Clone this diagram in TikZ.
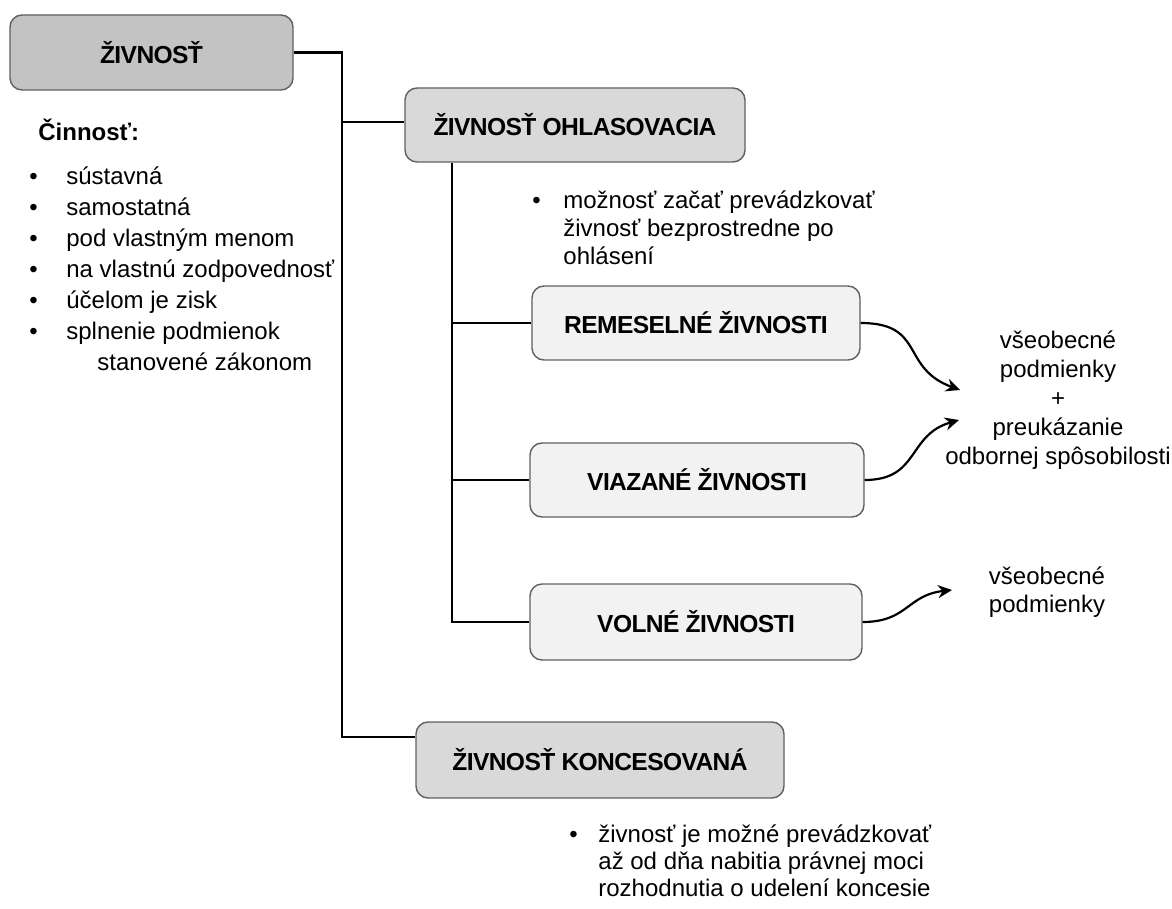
\documentclass[tikz,border=0pt]{standalone}
\usepackage{fontspec}
\setmainfont{Liberation Sans}
\usetikzlibrary{positioning,arrows.meta}

\definecolor{darkbox}{HTML}{C3C3C3}
\definecolor{midbox}{HTML}{D9D9D9}
\definecolor{lightbox}{HTML}{F2F2F2}
\definecolor{boxline}{HTML}{606060}

\tikzset{
  box/.style={draw=boxline, rounded corners=6pt, line width=0.7pt, inner sep=0pt,
    font=\bfseries\fontsize{12.3}{14}\selectfont\addfontfeature{LetterSpace=-2.5}},
  mainbox/.style={box, fill=darkbox},
  groupbox/.style={box, fill=midbox},
  typebox/.style={box, fill=lightbox},
  link/.style={line width=1.1pt},
  curvy/.style={line width=1.1pt, -{Stealth[length=7pt,width=6.5pt]}},
  plain/.style={inner sep=0pt, font=\fontsize{12}{15.5}\selectfont},
}

\begin{document}
\begin{tikzpicture}[x=0.5pt,y=-0.5pt]
\useasboundingbox (0,0) rectangle (1172,909);

%boxes
\node[mainbox, minimum width=141.5pt, minimum height=37.5pt] (ziv) at (151.5,52.5) {ŽIVNOSŤ};
\node[groupbox, minimum width=170pt, minimum height=37pt] (ohl) at (575,125) {ŽIVNOSŤ OHLASOVACIA};
\node[typebox, minimum width=164pt, minimum height=37pt] (rem) at (696,323) {REMESELNÉ ŽIVNOSTI};
\node[typebox, minimum width=167pt, minimum height=37pt] (via) at (697,480) {VIAZANÉ ŽIVNOSTI};
\node[typebox, minimum width=166pt, minimum height=38pt] (vol) at (696,622) {VOLNÉ ŽIVNOSTI};
\node[groupbox, minimum width=184pt, minimum height=38pt] (kon) at (600,760) {ŽIVNOSŤ KONCESOVANÁ};

%main trunk
\coordinate (t1) at (342,52.5);
\coordinate (ohlin) at ([yshift=1.5pt]ohl.west);
\coordinate (konin) at ([yshift=11.5pt]kon.west);
\draw[link] (ziv.east) -- (t1) |- (konin);
\draw[link] (t1 |- ohlin) -- (ohlin);

%sub trunk
\coordinate (s1) at ([xshift=24pt]ohl.south west);
\draw[link] (s1) |- (vol.west);
\draw[link] (s1 |- rem.west) -- (rem.west);
\draw[link] (s1 |- via.west) -- (via.west);

%left text
\node[plain, anchor=west, font=\bfseries\fontsize{12}{15.5}\selectfont] (cin) at (38,130) {Činnosť:};
\node[plain, anchor=north west, align=left] (vlast) at (29,166) {%
\makebox[18.5pt][l]{\textbullet}sústavná\\
\makebox[18.5pt][l]{\textbullet}samostatná\\
\makebox[18.5pt][l]{\textbullet}pod vlastným menom\\
\makebox[18.5pt][l]{\textbullet}na vlastnú zodpovednosť\\
\makebox[18.5pt][l]{\textbullet}účelom je zisk\\
\makebox[18.5pt][l]{\textbullet}splnenie podmienok\\
\hspace*{34pt}stanovené zákonom};

%ohlasovacia note
\node[plain, anchor=north west, align=left, font=\fontsize{12}{14}\selectfont] (ohlnote) at (532,190) {%
\makebox[15.5pt][l]{\textbullet}možnosť začať prevádzkovať\\
\hspace*{15.5pt}živnosť bezprostredne po\\
\hspace*{15.5pt}ohlásení};

%koncesovana note
\node[plain, anchor=north west, align=left, font=\fontsize{12}{13.5}\selectfont] (konnote) at (569,824) {%
\makebox[14.5pt][l]{\textbullet}živnosť je možné prevádzkovať\\
\hspace*{14.5pt}až od dňa nabitia právnej moci\\
\hspace*{14.5pt}rozhodnutia o udelení koncesie};

%conditions
\node[plain, align=center, font=\fontsize{12}{14.5}\selectfont] (odb) at (1058,400) {všeobecné\\podmienky\\+\\preukázanie\\odbornej spôsobilosti};
\node[plain, align=center, font=\fontsize{12}{14}\selectfont] (vseob) at (1047,592) {všeobecné\\podmienky};

%arrows
\coordinate (tipA) at (960,390);
\coordinate (tipB) at (959,420);
\coordinate (tipC) at (952,590);
\draw[curvy] (rem.east) .. controls +(65,0) and +(-60,-22) .. (tipA);
\draw[curvy] (via.east) .. controls +(55,0) and +(-52,15) .. (tipB);
\draw[curvy] (vol.east) .. controls +(45,0) and +(-45,5) .. (tipC);

\end{tikzpicture}
\end{document}
